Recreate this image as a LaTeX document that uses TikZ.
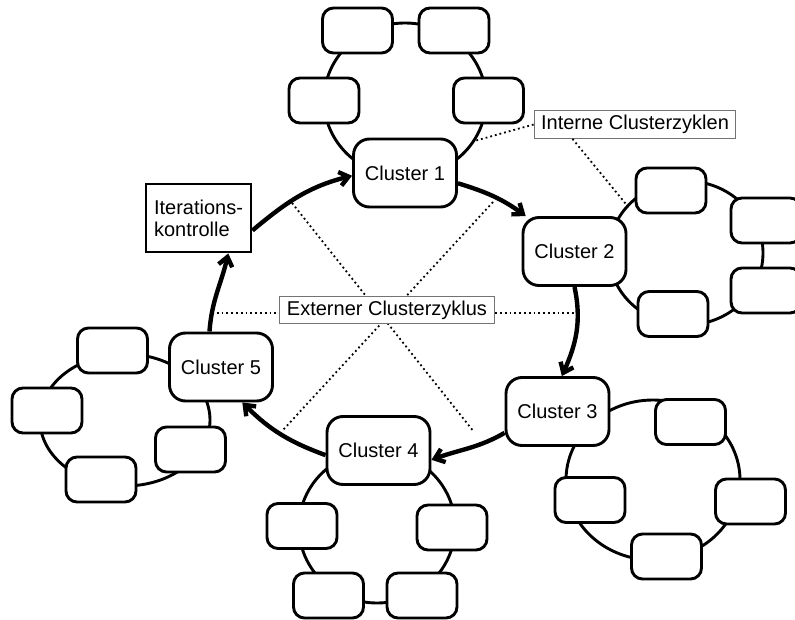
\documentclass[tikz,border=0pt]{standalone}
\usepackage{fontspec}
\setmainfont{Liberation Sans}
\usetikzlibrary{arrows.meta,shapes.geometric}

\begin{document}
\begin{tikzpicture}[
  x=0.5pt, y=0.5pt,
  font=\fontsize{10}{11}\selectfont,
  cluster/.style={draw, fill=white, rounded corners=8pt, line width=1.45pt, align=center, minimum width=51.5pt, minimum height=34pt},
  member/.style={draw, fill=white, rounded corners=5.5pt, line width=1.45pt, minimum width=35pt, minimum height=22.5pt},
  control/.style={draw, fill=white, line width=1.45pt, align=left, minimum width=52.5pt, minimum height=34pt},
  ring/.style={draw, ellipse, line width=1.45pt, inner sep=0pt},
  note/.style={draw=black!55, fill=white, line width=0.5pt, inner xsep=3.5pt, inner ysep=2.3pt},
  guide/.style={line width=0.9pt, dash pattern=on 0.9pt off 1.5pt},
  arrow/.style={-{Straight Barb[length=4.5pt,width=7pt]}, line width=2.2pt}
]
\useasboundingbox (0,0) rectangle (795,-619);
\clip (0,0) rectangle (795,-619);

% internal cycles
\node[ring, minimum width=81pt, minimum height=77pt] (ring1) at (405,-100) {};
\node[ring, minimum width=77pt, minimum height=72pt] (ring2) at (686,-253) {};
\node[ring, minimum width=87pt, minimum height=80pt] (ring3) at (653,-480) {};
\node[ring, minimum width=78pt, minimum height=76pt] (ring4) at (377,-527) {};
\node[ring, minimum width=85pt, minimum height=66pt] (ring5) at (125,-420) {};

\node[member] (m1a) at (357.5,-30.5) {};
\node[member] (m1b) at (454,-30.5) {};
\node[member] (m1c) at (324,-100.5) {};
\node[member] (m1d) at (488.5,-100.5) {};

\node[member] (m2a) at (671,-190.5) {};
\node[member] (m2b) at (766,-220.5) {};
\node[member] (m2c) at (766,-290.5) {};
\node[member] (m2d) at (673,-314) {};

\node[member] (m3a) at (690.5,-422) {};
\node[member] (m3b) at (750.5,-501.5) {};
\node[member] (m3c) at (666.5,-556.5) {};
\node[member] (m3d) at (590,-500) {};

\node[member] (m4a) at (302,-526) {};
\node[member] (m4b) at (452,-527.5) {};
\node[member] (m4c) at (328.5,-595.5) {};
\node[member] (m4d) at (422,-595.5) {};

\node[member] (m5a) at (112.5,-350.5) {};
\node[member] (m5b) at (47,-410.5) {};
\node[member] (m5c) at (101,-479.5) {};
\node[member] (m5d) at (190.5,-449.5) {};

% external cycle
\node[cluster] (c1) at (405,-173) {Cluster 1};
\node[cluster] (c2) at (574.5,-251.5) {Cluster 2};
\node[cluster] (c3) at (557.5,-411.5) {Cluster 3};
\node[cluster] (c4) at (378.5,-450.5) {Cluster 4};
\node[cluster] (c5) at (221,-367) {Cluster 5};
\node[control] (iter) at (198.5,-218) {Iterations-\\kontrolle};

\draw[arrow] (iter.-13) to[out=40,in=194] (c1.183);
\draw[arrow] (c1.-11) to[out=-17,in=144] (c2.144);
\draw[arrow] (c2.south) to[out=-78,in=66] (c3.83);
\draw[arrow] (c3.202) to[out=210,in=20] (c4.-10);
\draw[arrow] (c4.185) to[out=160,in=-45] (c5.-59);
\draw[arrow] (c5.108) to[out=86,in=-103] (iter.-50);

% labels
\coordinate (g1) at (292,-203);
\coordinate (g2) at (474,-432);
\coordinate (g3) at (493,-202);
\coordinate (g4) at (283,-430);
\coordinate (g5) at (212,-313);
\coordinate (g6) at (574,-313);
\draw[guide] (g1) -- (g2);
\draw[guide] (g3) -- (g4);
\draw[guide] (g5) -- (g6);
\node[note] (outer) at (387,-310) {Externer Clusterzyklus};

\node[note] (inner) at (635,-124.5) {Interne Clusterzyklen};
\draw[guide] (inner.west) -- (ring1.-30);
\draw[guide] (inner.193) -- (ring2.141);
\end{tikzpicture}
\end{document}
